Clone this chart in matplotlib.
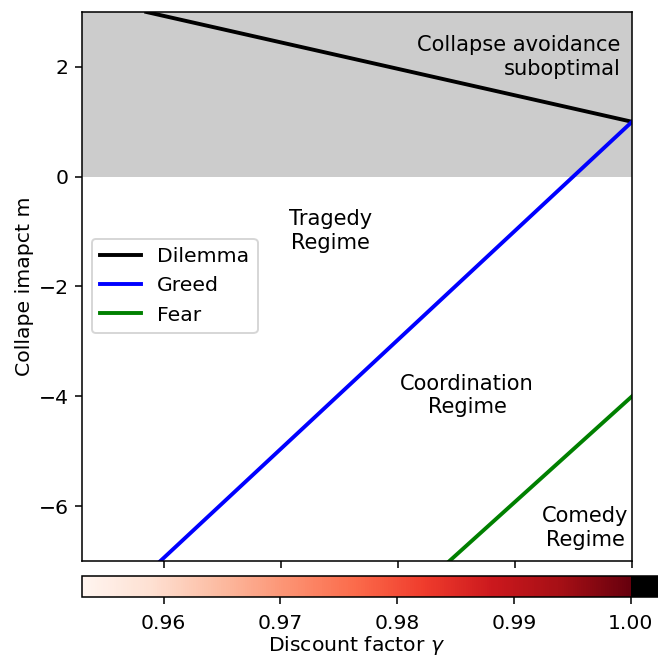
import numpy as np
import matplotlib
matplotlib.use("Agg")
import matplotlib.pyplot as plt
from matplotlib import cm, colors

plt.rcParams["font.size"] = 10.5

# data
gamma_min, gamma_max = 0.953, 1.0
m_min, m_max = -7, 3

dilemma_gamma = [0.9585, 1.0]
dilemma_m = [3.0, 1.0]
greed_gamma = [0.9597, 1.0]
greed_m = [-7.0, 1.0]
fear_gamma = [0.9844, 1.0]
fear_m = [-7.0, -4.0]

cbar_ticks = [0.96, 0.97, 0.98, 0.99, 1.00]

fig = plt.figure(figsize=(4.7, 4.7), dpi=140)
ax = fig.add_axes([0.1246, 0.1474, 0.8359, 0.8344])
cax = fig.add_axes([0.1246, 0.0927, 0.8754, 0.0319])

# region where collapse avoidance is suboptimal
ax.axhspan(0, m_max, color="0.8", lw=0)

ax.plot(dilemma_gamma, dilemma_m, color="black", lw=2, label="Dilemma")
ax.plot(greed_gamma, greed_m, color="blue", lw=2, label="Greed")
ax.plot(fear_gamma, fear_m, color="green", lw=2, label="Fear")

ax.text(0.9742, -0.99, "Tragedy\nRegime", ha="center", va="center", fontsize=10.8)
ax.text(0.9859, -3.99, "Coordination\nRegime", ha="center", va="center", fontsize=10.8)
ax.text(0.9960, -6.40, "Comedy\nRegime", ha="center", va="center", fontsize=10.8)
ax.text(0.9990, 2.18, "Collapse avoidance\nsuboptimal", ha="right", va="center",
        multialignment="right", fontsize=10.8)

ax.set_xlim(gamma_min, gamma_max)
ax.set_ylim(m_min, m_max)
ax.set_xticks(cbar_ticks)
ax.tick_params(labelbottom=False)
ax.set_yticks([-6, -4, -2, 0, 2])
ax.set_ylabel("Collape imapct m", labelpad=2)
ax.legend(loc="upper left", bbox_to_anchor=(0.018, 0.5865), borderaxespad=0)

cmap = plt.get_cmap("Reds").copy()
cmap.set_over("black")
norm = colors.Normalize(vmin=gamma_min, vmax=gamma_max)
sm = cm.ScalarMappable(norm=norm, cmap=cmap)
cb = fig.colorbar(sm, cax=cax, orientation="horizontal", extend="max",
                  extendrect=True, ticks=cbar_ticks, format="%.2f")
cb.ax.tick_params(pad=5)
cb.set_label(r"Discount factor $\gamma$", labelpad=1)

plt.savefig("out.png", dpi=140)
plt.close()
